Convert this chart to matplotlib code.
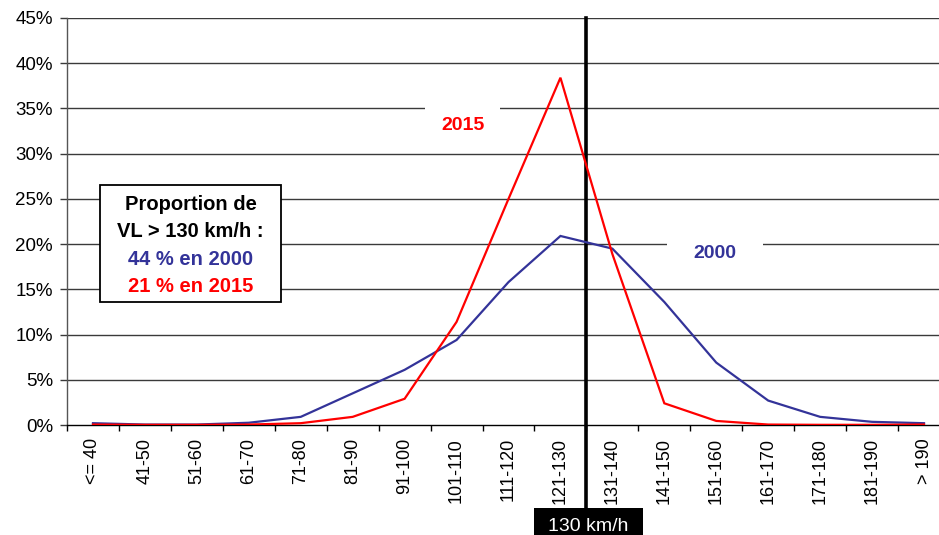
import matplotlib
matplotlib.use("Agg")
import matplotlib.pyplot as plt
from matplotlib.patches import Rectangle
from matplotlib.ticker import FuncFormatter, FixedLocator

plt.rcParams['font.family'] = ['Liberation Sans', 'DejaVu Sans']

categories = ["<= 40", "41-50", "51-60", "61-70", "71-80", "81-90", "91-100",
              "101-110", "111-120", "121-130", "131-140", "141-150", "151-160",
              "161-170", "171-180", "181-190", "> 190"]
values_2000 = [0.2, 0.05, 0.05, 0.25, 0.9, 3.5, 6.1, 9.4, 15.8, 20.9, 19.5,
               13.6, 6.9, 2.7, 0.9, 0.35, 0.2]
values_2015 = [0.05, 0.02, 0.02, 0.05, 0.2, 0.9, 2.9, 11.4, 25.0, 38.4, 18.9,
               2.4, 0.45, 0.05, 0.02, 0.02, 0.05]
y_ticks = [0, 5, 10, 15, 20, 25, 30, 35, 40, 45]
limit_label = "130 km/h"
box_lines = ["Proportion de", "VL > 130 km/h :", "44 % en 2000", "21 % en 2015"]

BLUE = "#333399"
RED = "#FF0000"

W, H = 939, 535
fig = plt.figure(figsize=(W / 100, H / 100), dpi=100)
ax_left, ax_right, ax_top, ax_bottom = 67, 950, 18, 425
ax = fig.add_axes([ax_left / W, (H - ax_bottom) / H, (ax_right - ax_left) / W,
                   (ax_bottom - ax_top) / H])

x = list(range(len(categories)))
ax.set_xlim(-0.5, len(categories) - 0.5)
ax.set_ylim(0, 45)

# gridlines
for yv in y_ticks[1:]:
    ax.axhline(yv, color="#3a3a3a", lw=1.0, zorder=1)

# lines
ax.plot(x, values_2000, color=BLUE, lw=1.6, zorder=4, solid_joinstyle='miter')
ax.plot(x, values_2015, color=RED, lw=1.6, zorder=5, solid_joinstyle='miter')

# vertical 130 km/h line
ax.plot([9.5, 9.5], [45, -9.2], color="black", lw=2.6, zorder=3, clip_on=False)

# white gaps for labels
ax.add_patch(Rectangle((6.39, 31.5), 7.84 - 6.39, 6.5, facecolor="white",
                       edgecolor="none", zorder=2))
ax.text(7.12, 32.6, "2015", color=RED, fontsize=14, fontweight="bold",
        ha="center", va="baseline", zorder=6)
ax.add_patch(Rectangle((11.05, 16.5), 12.90 - 11.05, 6.0, facecolor="white",
                       edgecolor="none", zorder=2))
ax.text(11.98, 18.43, "2000", color=BLUE, fontsize=14, fontweight="bold",
        ha="center", va="baseline", zorder=6)

# proportion box
ax.add_patch(Rectangle((0.135, 13.6), 3.62 - 0.135, 26.5 - 13.6,
                       facecolor="white", edgecolor="black", lw=1.3, zorder=6))
box_colors = ["black", "black", BLUE, RED]
box_baselines = [23.78, 20.8, 17.7, 14.74]
for txt, col, yb in zip(box_lines, box_colors, box_baselines):
    ax.text(1.878, yb, txt, color=col, fontsize=14.5, fontweight="bold",
            ha="center", va="baseline", zorder=7)

# axes styling
for s in ["top", "right"]:
    ax.spines[s].set_visible(False)
ax.spines["left"].set_color("#555555")
ax.spines["left"].set_linewidth(1.0)
ax.spines["bottom"].set_color("black")
ax.spines["bottom"].set_linewidth(1.0)
ax.spines["bottom"].set_zorder(3)

ax.set_yticks(y_ticks)
ax.yaxis.set_major_formatter(FuncFormatter(lambda v, p: f"{int(v)}%"))
ax.tick_params(axis="y", length=5, width=1.0, color="#3a3a3a", pad=5,
               labelsize=13.5)

ax.set_xticks(x)
ax.set_xticklabels(categories, rotation=90, fontsize=13)
ax.xaxis.set_minor_locator(FixedLocator([i + 0.5 for i in range(-1, len(categories))]))
ax.tick_params(axis="x", which="major", length=0, pad=9.5)
ax.tick_params(axis="x", which="minor", length=4, width=1.0, color="black",
               direction="out")

# 130 km/h label
fig.patches.append(Rectangle((534 / W, 0), (643 - 534) / W, (H - 508) / H,
                             transform=fig.transFigure, facecolor="black",
                             edgecolor="none", zorder=1))
fig.text(588.5 / W, (H - 531) / H, limit_label, color="white", fontsize=14,
         ha="center", va="baseline", zorder=2)

fig.savefig("out.png", dpi=100)
